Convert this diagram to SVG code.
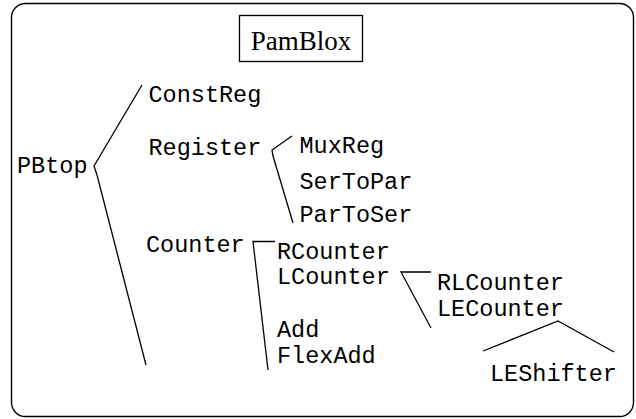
<svg xmlns="http://www.w3.org/2000/svg" width="636" height="419" viewBox="0 0 636 419">
<style>
.frame{fill:#fff;stroke:#000;stroke-width:1.4}
.t{font-family:"Liberation Mono","Courier New",monospace;font-size:23.5px;fill:#000}
.title{font-family:"Liberation Serif","Times New Roman",serif;font-size:27px;fill:#000}
.c{fill:none;stroke:#000;stroke-width:1.3}
</style>
<rect class="frame" x="11.5" y="3.5" width="622" height="413" rx="14" ry="14"/>
<g id="title">
<rect x="239.5" y="15.5" width="123" height="46" fill="#fff" stroke="#000" stroke-width="1.3"/>
<text class="title" x="301" y="49.5" text-anchor="middle">PamBlox</text>
</g>
<g id="connectors">
<polyline class="c" points="142,85 94,166 97,175 146,365"/>
<polyline class="c" points="292,136 272,150 273,156 293,223"/>
<polyline class="c" points="275,241.5 253,241.5 268,370"/>
<polyline class="c" points="431,272 401,272 431,328"/>
<polyline class="c" points="483,351 558,321 614,352"/>
</g>
<g id="PBtop"><text class="t" x="17" y="173">PBtop</text></g>
<g id="ConstReg"><text class="t" x="148.5" y="102">ConstReg</text></g>
<g id="Register"><text class="t" x="148.5" y="155">Register</text></g>
<g id="MuxReg"><text class="t" x="299.5" y="153">MuxReg</text></g>
<g id="SerToPar"><text class="t" x="299.5" y="189">SerToPar</text></g>
<g id="ParToSer"><text class="t" x="299.5" y="222">ParToSer</text></g>
<g id="Counter"><text class="t" x="146" y="252">Counter</text></g>
<g id="RCounter"><text class="t" x="277" y="259">RCounter</text></g>
<g id="LCounter"><text class="t" x="277" y="284">LCounter</text></g>
<g id="Add"><text class="t" x="277" y="337">Add</text></g>
<g id="FlexAdd"><text class="t" x="277" y="363">FlexAdd</text></g>
<g id="RLCounter"><text class="t" x="437" y="290">RLCounter</text></g>
<g id="LECounter"><text class="t" x="437" y="316">LECounter</text></g>
<g id="LEShifter"><text class="t" x="490" y="381">LEShifter</text></g>
</svg>
